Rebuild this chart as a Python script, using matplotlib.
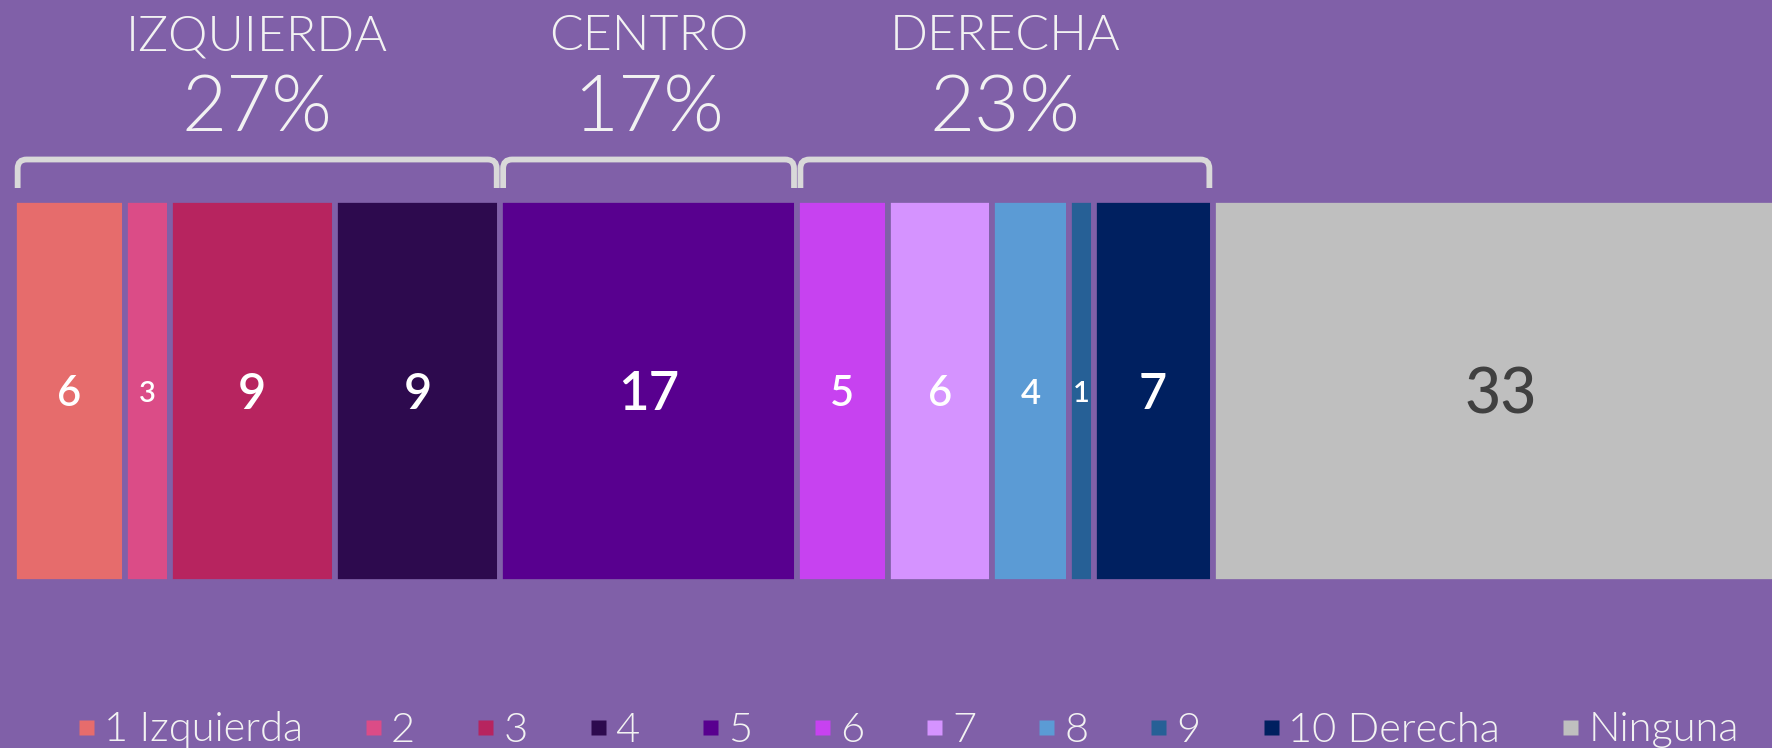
import numpy as np
import matplotlib.pyplot as plt
from matplotlib.path import Path
from matplotlib.patches import PathPatch
from matplotlib.lines import Line2D

# datos
categorias = ['1 Izquierda', '2', '3', '4', '5', '6', '7', '8', '9', '10 Derecha', 'Ninguna']
valores = [6.2, 2.55, 9.3, 9.3, 16.75, 5.1, 5.9, 4.3, 1.4, 6.7, 32.5]
grupos = ['IZQUIERDA', 'CENTRO', 'DERECHA']
grupo_rango = [(0, 4), (4, 5), (5, 10)]  # indices de categorias de cada grupo

# estilo
colores = ['#E66C6C', '#DB4C87', '#B7245F', '#2D0A4E', '#58008F', '#C742F0',
           '#D593FF', '#5B9BD5', '#266096', '#002060', '#BFBFBF']
tam_etiqueta = [30, 21, 35, 35, 38, 30, 30, 25, 21, 35, 45]
fondo = '#8060A8'
blanco = '#F2F2F2'
gris_llave = '#D9D9D9'

plt.rcParams['font.family'] = ['Lato', 'DejaVu Sans']

W, H = 1772, 748
px_unidad = 17.75      # pixeles por punto porcentual
x0_px = 14.45          # posicion del cero
fig = plt.figure(figsize=(W / 100, H / 100), dpi=100)
fig.patch.set_facecolor(fondo)
ax = fig.add_axes([0, 0, 1, 1])
ax.set_facecolor(fondo)
ax.set_xlim(-x0_px / px_unidad, (W - x0_px) / px_unidad)
ax.set_ylim(H, 0)  # eje y en pixeles
ax.axis('off')

gap = 5.7  # px entre barras
y_barra = 391
alto_barra = 376 + gap
izq = np.concatenate([[0], np.cumsum(valores)[:-1]])
ax.barh(y_barra, valores, left=izq, height=alto_barra, color=colores,
        edgecolor=fondo, linewidth=gap * 72 / 100)

# etiquetas de las barras
for i, v in enumerate(valores):
    ninguna = categorias[i] == 'Ninguna'
    c = '#404040' if ninguna else 'white'
    peso = 'medium' if ninguna else 'semibold'
    fs = tam_etiqueta[i]
    ax.text(izq[i] + v / 2, y_barra + fs / 2, f'{int(v + 0.5)}',
            ha='center', va='baseline', color=c, fontsize=fs, fontweight=peso)

# llaves y titulos de grupos
y_top, y_bot, r = 159.5, 188, 9
inset = 3.2 / px_unidad
for nombre, (a, b) in zip(grupos, grupo_rango):
    xa = izq[a] + inset
    xb = izq[b] - inset
    rx = r / px_unidad
    verts = [(xa, y_bot), (xa, y_top + r), (xa, y_top), (xa + rx, y_top),
             (xb - rx, y_top), (xb, y_top), (xb, y_top + r), (xb, y_bot)]
    codes = [Path.MOVETO, Path.LINETO, Path.CURVE3, Path.CURVE3,
             Path.LINETO, Path.CURVE3, Path.CURVE3, Path.LINETO]
    ax.add_patch(PathPatch(Path(verts, codes), facecolor='none', edgecolor=gris_llave,
                           linewidth=5.8 * 72 / 100, capstyle='butt'))
    total = sum(valores[a:b])
    xc = (izq[a] + izq[b]) / 2
    ax.text(xc, 50, nombre, ha='center', va='baseline', color=blanco,
            fontsize=36, fontweight=300)
    ax.text(xc, 131, f'{int(total + 0.5)}%', ha='center', va='baseline', color=blanco,
            fontsize=56, fontweight=300)

# leyenda
handles = [Line2D([], [], marker='s', linestyle='none', markersize=15 * 72 / 100,
                  markerfacecolor=c, markeredgecolor='none') for c in colores]
fs_leg = 30
em = fs_leg * 100 / 72
fig.legend(handles, categorias, loc='center left', bbox_to_anchor=(78 / W, 18 / H),
           ncol=len(categorias), frameon=False,
           prop={'weight': 300, 'size': fs_leg},
           handlelength=16 / em, handletextpad=10 / em, columnspacing=62 / em,
           borderpad=0, borderaxespad=0, labelcolor=blanco)

fig.savefig('out.png', dpi=100, facecolor=fondo)
